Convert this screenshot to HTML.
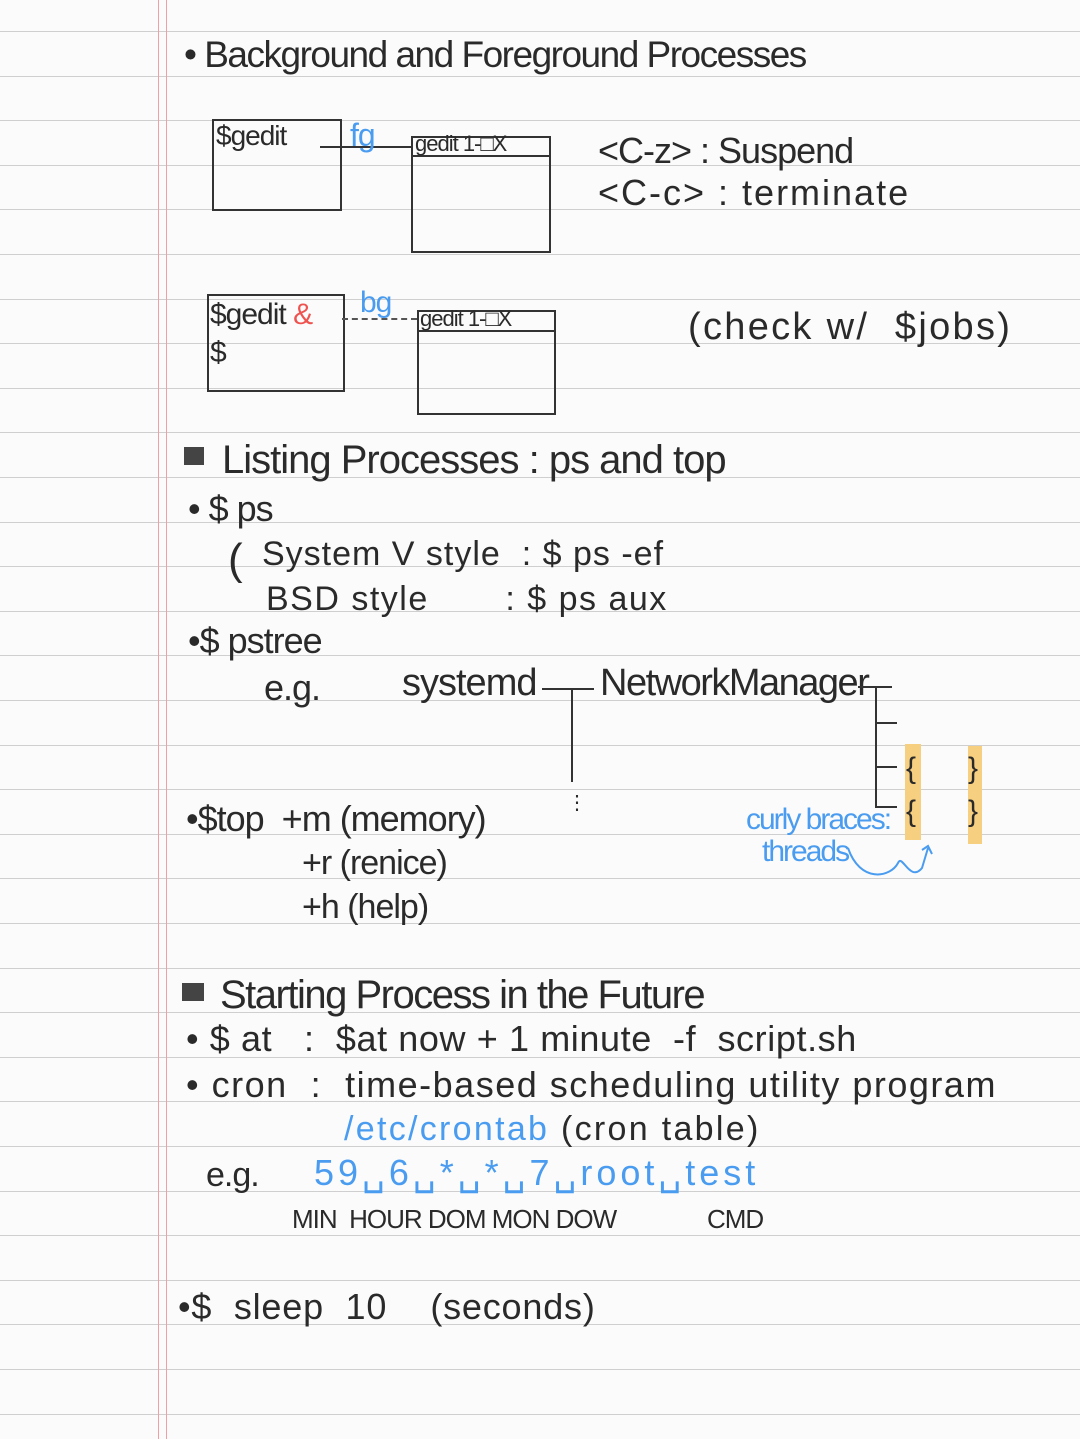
<!DOCTYPE html>
<html><head><meta charset="utf-8"><style>
html,body{margin:0;padding:0}
body{width:1080px;height:1439px;position:relative;overflow:hidden;background:#fbfbfb;
font-family:"Liberation Sans",sans-serif;color:#2a2a2a}
.rule{position:absolute;left:0;width:1080px;height:1px;background:#cfcfcf}
.v{position:absolute;top:0;width:1px;height:1439px;background:#f0a0a0}
.t{position:absolute;white-space:nowrap;font-size:32px;letter-spacing:-1px}
.b{color:#4a9cf0}.r{color:#ef5350}
.box{position:absolute;border:2px solid #333}
.hl{position:absolute;background:#f7cf80}
</style></head><body>
<div id="rules"></div>
<script>
var h='';for(var i=0;i<32;i++){h+='<div class="rule" style="top:'+Math.round(31+i*44.6)+'px"></div>';}
document.getElementById('rules').innerHTML=h;
</script>
<div class="v" style="left:158px"></div><div class="v" style="left:166px"></div>

<div class="t" style="left:184px;top:34px;font-size:37px;letter-spacing:-1.5px">• Background and Foreground Processes</div>

<div class="box" style="left:212px;top:119px;width:126px;height:88px"></div>
<div class="t" style="left:216px;top:120px;font-size:28px">$gedit</div>
<div style="position:absolute;left:320px;top:146px;width:92px;height:2px;background:#333"></div>
<div class="t b" style="left:350px;top:117px;font-size:32px">fg</div>
<div class="box" style="left:411px;top:136px;width:136px;height:113px"></div>
<div style="position:absolute;left:411px;top:155px;width:138px;height:2px;background:#333"></div>
<div class="t" style="left:415px;top:131px;font-size:22px">gedit 1-□X</div>
<div class="t" style="left:598px;top:130px;font-size:36px">&lt;C-z&gt; : Suspend</div>
<div class="t" style="left:598px;top:172px;font-size:36px;letter-spacing:2px">&lt;C-c&gt; : terminate</div>

<div class="box" style="left:207px;top:294px;width:134px;height:94px"></div>
<div class="t" style="left:210px;top:298px;font-size:30px">$gedit <span class="r">&amp;</span></div>
<div class="t" style="left:210px;top:336px;font-size:30px">$</div>
<div style="position:absolute;left:342px;top:318px;width:75px;border-top:2px dashed #555"></div>
<div class="t b" style="left:360px;top:286px;font-size:30px">bg</div>
<div class="box" style="left:417px;top:310px;width:135px;height:101px"></div>
<div style="position:absolute;left:417px;top:330px;width:137px;height:2px;background:#333"></div>
<div class="t" style="left:420px;top:306px;font-size:22px">gedit 1-□X</div>
<div class="t" style="left:688px;top:306px;font-size:38px;letter-spacing:2.3px">(check w/ &nbsp;$jobs)</div>

<div style="position:absolute;left:184px;top:447px;width:20px;height:18px;background:#444"></div>
<div class="t" style="left:222px;top:438px;font-size:40px">Listing Processes : ps and top</div>
<div class="t" style="left:188px;top:488px;font-size:36px">• $ ps</div>
<div class="t" style="left:228px;top:535px;font-size:44px;font-weight:100">(</div>
<div class="t" style="left:262px;top:535px;font-size:34px;letter-spacing:1px">System V style &nbsp;: $ ps -ef</div>
<div class="t" style="left:266px;top:580px;font-size:34px;letter-spacing:1.5px">BSD style &nbsp;&nbsp;&nbsp;&nbsp;&nbsp;&nbsp;: $ ps aux</div>
<div class="t" style="left:188px;top:620px;font-size:36px">•$ pstree</div>
<div class="t" style="left:264px;top:667px;font-size:36px">e.g.</div>
<div class="t" style="left:402px;top:662px;font-size:38px">systemd</div>
<div style="position:absolute;left:542px;top:688px;width:52px;height:2px;background:#333"></div>
<div style="position:absolute;left:571px;top:688px;width:2px;height:94px;background:#333"></div>
<div class="t" style="left:567px;top:790px;font-size:20px">⋮</div>
<div class="t" style="left:600px;top:662px;font-size:38px;letter-spacing:-1.5px">NetworkManager</div>
<div style="position:absolute;left:858px;top:686px;width:34px;height:2px;background:#333"></div>
<div style="position:absolute;left:875px;top:686px;width:2px;height:122px;background:#333"></div>
<div style="position:absolute;left:875px;top:722px;width:22px;height:2px;background:#333"></div>
<div style="position:absolute;left:875px;top:766px;width:22px;height:2px;background:#333"></div>
<div style="position:absolute;left:875px;top:806px;width:22px;height:2px;background:#333"></div>
<div class="hl" style="left:905px;top:744px;width:16px;height:96px"></div>
<div class="hl" style="left:968px;top:746px;width:14px;height:98px"></div>
<div class="t" style="left:906px;top:752px;font-size:30px">{</div>
<div class="t" style="left:906px;top:795px;font-size:30px">{</div>
<div class="t" style="left:968px;top:752px;font-size:30px">}</div>
<div class="t" style="left:968px;top:795px;font-size:30px">}</div>
<div class="t b" style="left:746px;top:803px;font-size:30px;letter-spacing:-2px">curly braces:</div>
<div class="t b" style="left:762px;top:835px;font-size:30px;letter-spacing:-2px">threads</div>
<svg style="position:absolute;left:840px;top:838px" width="100" height="50"><path d="M8 10 C20 45,50 40,58 25 C62 15,70 45,82 30 L88 10 M82 12 L88 8 L92 16" fill="none" stroke="#4a9cf0" stroke-width="2"/></svg>
<div class="t" style="left:186px;top:798px;font-size:36px">•$top &nbsp;+m (memory)</div>
<div class="t" style="left:302px;top:844px;font-size:34px">+r (renice)</div>
<div class="t" style="left:302px;top:888px;font-size:34px">+h (help)</div>

<div style="position:absolute;left:182px;top:983px;width:22px;height:18px;background:#444"></div>
<div class="t" style="left:220px;top:973px;font-size:40px;letter-spacing:-1.5px">Starting Process in the Future</div>
<div class="t" style="left:186px;top:1018px;font-size:36px;letter-spacing:0.6px">• $ at &nbsp;&nbsp;: &nbsp;$at now + 1 minute &nbsp;-f &nbsp;script.sh</div>
<div class="t" style="left:186px;top:1064px;font-size:36px;letter-spacing:1.5px">• cron &nbsp;: &nbsp;time-based scheduling utility program</div>
<div class="t" style="left:344px;top:1110px;font-size:34px;letter-spacing:2.3px"><span class="b">/etc/crontab</span> (cron table)</div>
<div class="t" style="left:206px;top:1156px;font-size:34px">e.g.</div>
<div class="t b" style="left:314px;top:1152px;font-size:36px;letter-spacing:4px">59␣6␣*␣*␣7␣root␣test</div>
<div class="t" style="left:292px;top:1204px;font-size:26px">MIN &nbsp;HOUR DOM MON DOW</div>
<div class="t" style="left:707px;top:1204px;font-size:26px">CMD</div>
<div class="t" style="left:178px;top:1286px;font-size:36px;letter-spacing:0.8px">•$ &nbsp;sleep &nbsp;10 &nbsp;&nbsp;&nbsp;(seconds)</div>
</body></html>
